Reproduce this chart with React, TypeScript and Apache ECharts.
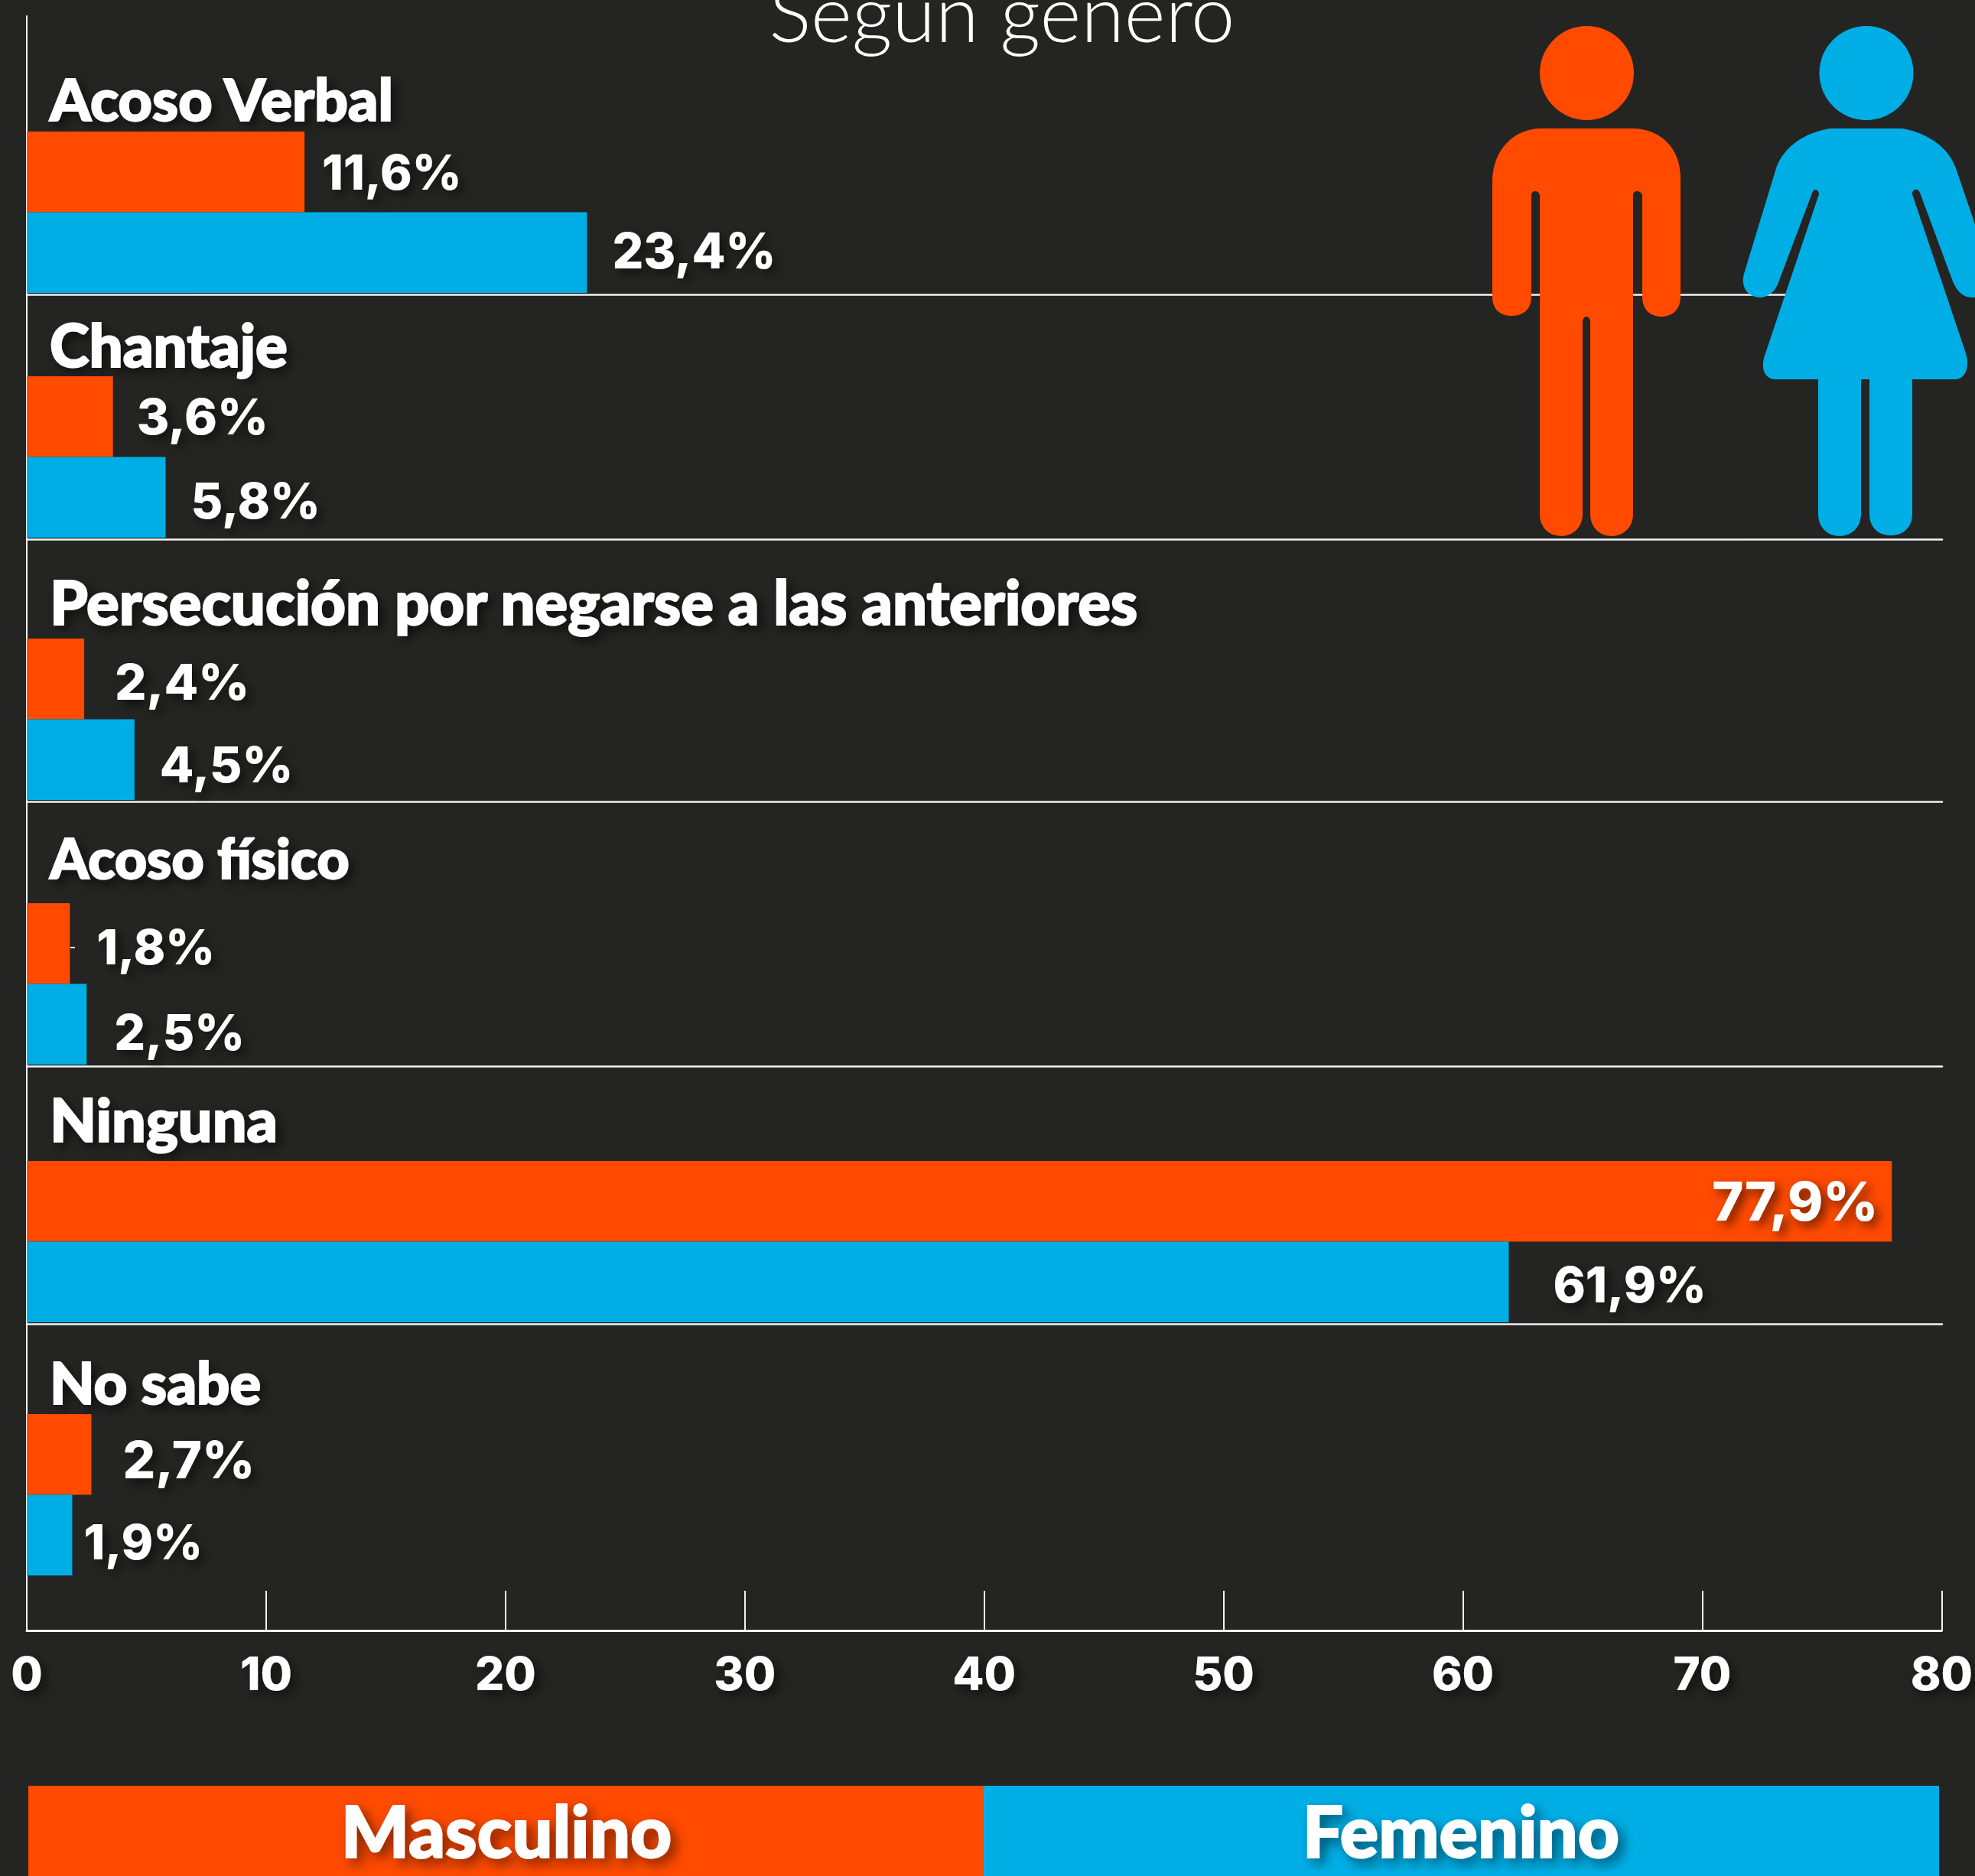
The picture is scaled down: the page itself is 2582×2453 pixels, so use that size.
import React, { useEffect, useRef } from "react";
import * as echarts from "echarts";

const categories = ["Acoso Verbal", "Chantaje", "Persecución por negarse a las anteriores", "Acoso físico", "Ninguna", "No sabe"];
const masculino = [11.6, 3.6, 2.4, 1.8, 77.9, 2.7];
const femenino = [23.4, 5.8, 4.5, 2.5, 61.9, 1.9];
const ticks = [0, 10, 20, 30, 40, 50, 60, 70, 80];

const BG = "#242423";
const ORANGE = "#FF4A00";
const BLUE = "#00AEE6";
const FONT = "Lato";
const NUMFONT = "Inter";
const LEFT = 35;
const RIGHT = 2582 - 2539;
const groupTops = [172, 492, 835, 1181, 1518, 1849];
const groupHeight = 211;
const nameSizes = [77, 78, 79.5, 73, 79, 76];
const nameGaps = [6, 3, 9, 24, 16, 5];
const mLabelOffsets = [[23, 0], [31, 0], [40, 4], [35, 4], [-18, 0], [41, 7]];
const fLabelOffsets = [[33, -3], [33, 4], [33, 6], [36, 10], [58, 3], [15, 9]];
const mLabelSizes = [63, 65, 65, 63, 70, 67];
const fLabelSizes = [64, 64, 65, 64, 64, 63];

const fmt = (v: number) => v.toFixed(1).replace(".", ",") + "%";
const shadow = { textShadowColor: "rgba(0,0,0,0.6)", textShadowBlur: 14, textShadowOffsetX: 6, textShadowOffsetY: 6 };

const manPath = "M2015 168 L2134 168 C2172 168 2197 195 2197 232 L2197 388 C2197 405 2186 414 2172 414 C2158 414 2147 405 2147 388 L2147 256 C2147 252 2143 250 2140 250 C2137 250 2135 252 2135 256 L2135 672 C2135 690 2122 701 2107 701 C2092 701 2079 690 2079 672 L2079 422 C2079 417 2077 414 2074 414 C2071 414 2069 417 2069 422 L2069 672 C2069 690 2056 701 2041 701 C2026 701 2013 690 2013 672 L2013 256 C2013 252 2010 250 2007 250 C2004 250 2002 252 2002 256 L2002 388 C2002 405 1991 413 1976 413 C1962 413 1951 405 1951 388 L1951 238 C1951 195 1980 168 2015 168 Z";
const womanPath = "M2392 168 L2487 168 C2520 174 2547 192 2557 220 L2604 358 C2610 378 2596 389 2578 389 C2566 389 2558 380 2553 368 L2510 252 C2508 246 2500 246 2500 254 L2570 462 C2576 482 2568 496 2556 496 L2500 496 L2500 672 C2500 690 2488 700 2472 700 C2456 700 2444 690 2444 672 L2444 496 L2433 496 L2433 672 C2433 690 2420 701 2405 701 C2390 701 2377 690 2377 672 L2377 496 L2322 496 C2308 496 2302 484 2306 468 L2378 254 C2378 248 2372 246 2370 250 L2324 372 C2320 382 2310 389 2301 389 C2286 389 2275 376 2280 358 L2322 220 C2332 192 2358 174 2392 168 Z";

echarts.graphic.registerShape("manBody", echarts.graphic.extendPath(manPath as any, {}) as any);
echarts.graphic.registerShape("womanBody", echarts.graphic.extendPath(womanPath as any, {}) as any);

export default function App() {
  const ref = useRef<HTMLDivElement>(null);
  useEffect(() => {
    document.body.style.margin = "0";
    document.body.style.background = BG;
    const chart = echarts.init(ref.current!, undefined, { renderer: "svg" });

    const grids: any[] = [];
    const xAxes: any[] = [];
    const yAxes: any[] = [];
    const series: any[] = [];

    categories.forEach((name, i) => {
      grids.push({ left: LEFT, right: RIGHT, top: groupTops[i], height: groupHeight });
      xAxes.push({
        gridIndex: i, type: "value", min: 0, max: 80, interval: 10, offset: 2,
        axisLabel: { show: false }, axisTick: { show: false }, splitLine: { show: false },
        axisLine: { show: i < categories.length - 1, lineStyle: { color: "#f2f2f2", width: 2.5 } },
      });
      yAxes.push({
        gridIndex: i, type: "category", data: [name], inverse: true,
        axisLabel: { show: false }, axisTick: { show: false }, axisLine: { show: false },
        name, nameLocation: "start", nameGap: nameGaps[i],
        nameTextStyle: {
          color: "#fff", fontFamily: FONT, fontWeight: 900, fontSize: nameSizes[i], align: "left", verticalAlign: "bottom",
          padding: [0, 0, 0, 30], textBorderColor: "#fff", textBorderWidth: 2, ...shadow,
        },
      });
      const lab = (o: number[], pos: string, size: number) => ({
        show: true, position: pos, distance: 0, offset: o, formatter: (p: any) => fmt(p.value),
        color: "#fff", fontFamily: NUMFONT, fontWeight: 800, fontSize: size, ...shadow,
      });
      series.push({
        type: "bar", name: "Masculino", xAxisIndex: i, yAxisIndex: i, data: [masculino[i]],
        barWidth: "50%", barGap: 0, itemStyle: { color: ORANGE },
        label: lab(mLabelOffsets[i], masculino[i] > 50 ? "insideRight" : "right", mLabelSizes[i]),
      });
      series.push({
        type: "bar", name: "Femenino", xAxisIndex: i, yAxisIndex: i, data: [femenino[i]],
        barWidth: "50%", barGap: 0, itemStyle: { color: BLUE },
        label: lab(fLabelOffsets[i], "right", fLabelSizes[i]),
      });
    });

    const n = categories.length;
    grids.push({ left: LEFT, right: RIGHT, top: 21, bottom: 2453 - 2132 });
    xAxes.push({
      gridIndex: n, type: "value", min: 0, max: 80, interval: 10,
      axisLine: { show: true, lineStyle: { color: "#f2f2f2", width: 3 } },
      axisTick: { show: true, inside: true, length: 52, lineStyle: { color: "#f2f2f2", width: 2 } },
      axisLabel: { show: true, margin: 26, color: "#fff", fontFamily: NUMFONT, fontWeight: 800, fontSize: 60, formatter: (v: number) => (ticks.includes(v) ? String(v) : ""), showMinLabel: true, showMaxLabel: true, ...shadow },
      splitLine: { show: false },
    });
    yAxes.push({
      gridIndex: n, type: "value", min: 0, max: 1,
      axisLine: { show: true, onZero: false, lineStyle: { color: "#f2f2f2", width: 2 } },
      axisTick: { show: false }, axisLabel: { show: false }, splitLine: { show: false },
    });

    const legendText = (text: string, cx: number) => ({
      type: "text", x: cx, y: 2392, z: 10,
      style: { text, fill: "#fff", stroke: "#fff", lineWidth: 2, font: `900 94px ${FONT}`, align: "center", verticalAlign: "middle", textShadowColor: "rgba(0,0,0,0.5)", textShadowBlur: 16, textShadowOffsetX: 7, textShadowOffsetY: 7 },
    });

    chart.setOption({
      animation: false,
      backgroundColor: BG,
      grid: grids,
      xAxis: xAxes,
      yAxis: yAxes,
      series,
      title: {
        text: "Según género", left: 1305, top: -42, textAlign: "center",
        textStyle: { color: "#fff", fontFamily: FONT, fontWeight: 300, fontSize: 103 },
      },
      graphic: [
        { type: "rect", shape: { x: 37, y: 2335, width: 1249, height: 118 }, style: { fill: ORANGE } },
        { type: "rect", shape: { x: 1286, y: 2335, width: 1249, height: 118 }, style: { fill: BLUE } },
        legendText("Masculino", 662),
        legendText("Femenino", 1910),
        { type: "line", shape: { x1: 92, y1: 1239, x2: 98, y2: 1239 }, style: { stroke: "#f2f2f2", lineWidth: 2 } },
        { type: "ellipse", shape: { cx: 2074.5, cy: 95.5, rx: 61.5, ry: 61.5 }, style: { fill: ORANGE }, z: 20 },
        { type: "ellipse", shape: { cx: 2440, cy: 95.5, rx: 61.5, ry: 61.5 }, style: { fill: BLUE }, z: 20 },
        { type: "manBody", x: 0, y: 0, style: { fill: ORANGE }, z: 20 },
        { type: "womanBody", x: 0, y: 0, style: { fill: BLUE }, z: 20 },
      ],
    });
    return () => chart.dispose();
  }, []);
  return <div ref={ref} style={{ position: "absolute", left: 0, top: 0, width: 2582, height: 2453 }} />;
}
